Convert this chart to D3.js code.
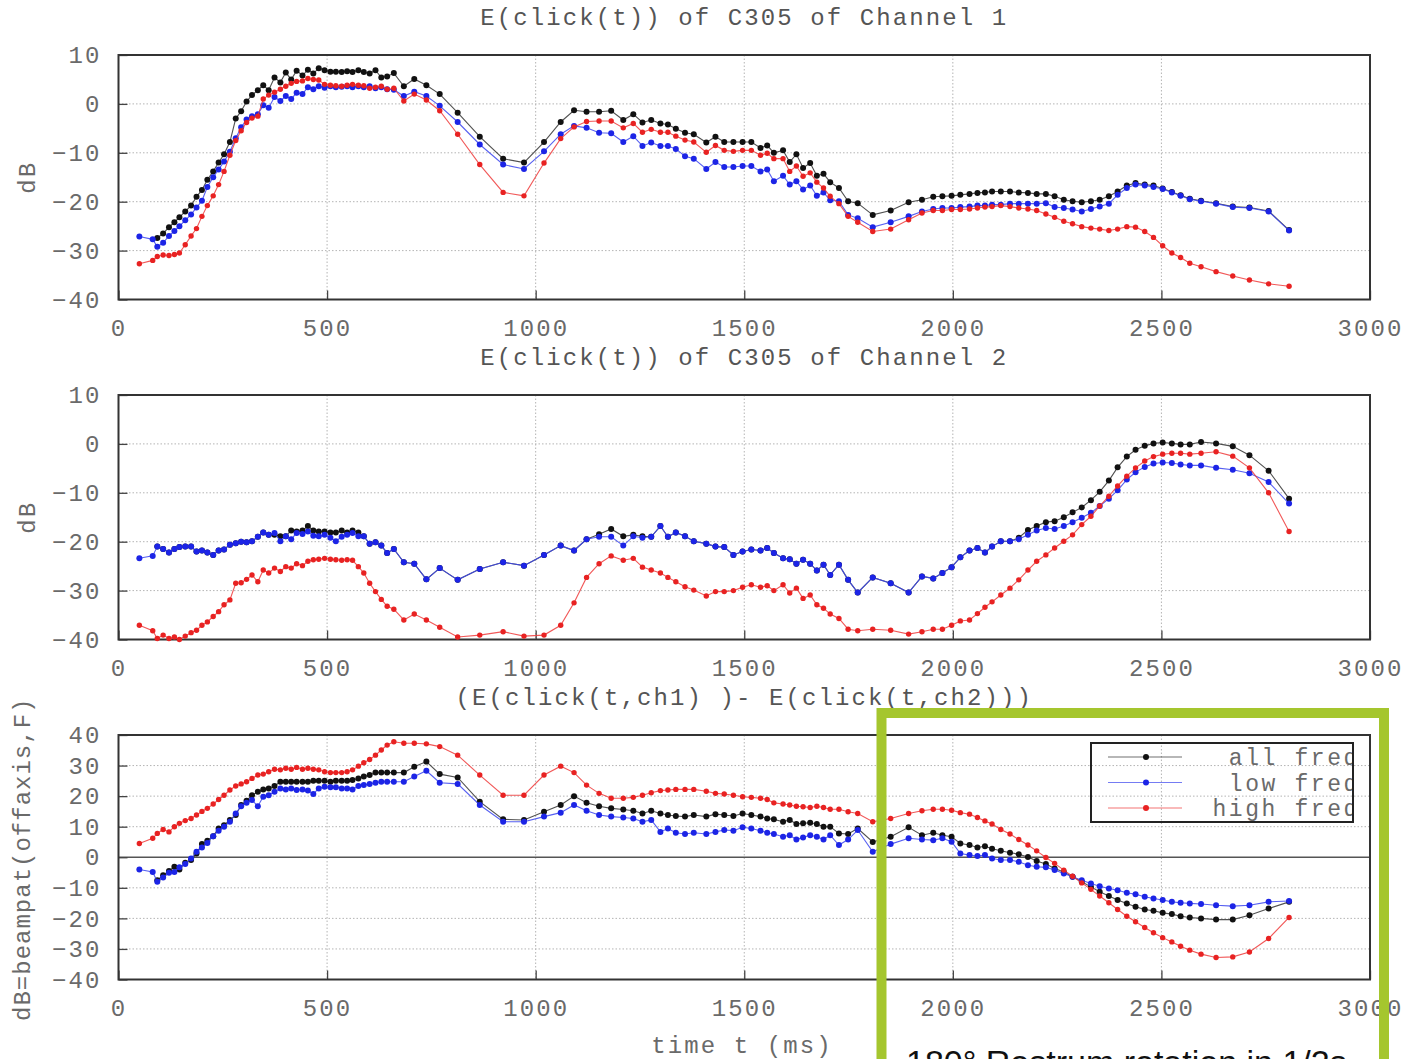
<!DOCTYPE html>
<html>
<head>
<meta charset="utf-8">
<script src="https://cdn.jsdelivr.net/npm/d3@7"></script>
<style>
  html, body { margin: 0; padding: 0; background: #fff; }
  svg { display: block; }
</style>
</head>
<body>
<svg id="chart" width="1406" height="1059"></svg>
<script>
// Click times (ms), shared by every panel
const timeMs = [50,82,93,107,121,134,146,160,174,187,200,213,227,240,253,267,281,294,307,320,334,347,360,374,388,401,414,427,441,454,467,480,494,508,521,535,548,561,575,588,602,616,630,644,660,
  684,709,738,770,813,866,922,972,1020,1060,1092,1122,1152,1181,1210,1234,1256,1277,1299,1317,1336,1358,1379,
  1409,1431,1452,1474,1496,1517,1539,1555,1571,1593,1609,1625,1641,1658,1674,1690,1706,1727,1749,1772,1808,1851,1894,1926,1953,1975,1997,2018,2040,2059,2077,2094,2115,2137,2158,2180,2201,2223,2244,2266,2287,2309,2331,2352,2374,2395,2417,2438,2460,2481,2503,2525,2546,2568,2595,2631,2671,2711,2757,2806];

// Channel 1 energy (dB)
const ch1All = [null,null,-27.4,-26.5,-25.2,-24.2,-23.2,-22.0,-20.8,-19.0,-17.6,-15.5,-13.8,-12.0,-10.3,-7.8,-3.0,-1.5,0.5,1.8,2.8,3.8,2.8,5.4,4.4,6.4,5.0,6.8,5.8,7.0,6.2,7.3,6.9,6.6,6.6,6.5,6.7,6.5,6.9,6.5,6.2,6.9,5.4,5.6,6.3,
  3.6,5.1,3.8,2.0,-1.8,-6.7,-11.2,-12.0,-7.8,-3.7,-1.3,-1.6,-1.6,-1.4,-3.3,-2.1,-3.8,-3.3,-4.0,-4.2,-5.1,-5.9,-6.2,
  -7.9,-6.7,-7.8,-7.8,-7.8,-7.8,-9.0,-8.5,-10.0,-9.5,-11.9,-10.3,-13.1,-12.1,-14.7,-14.3,-16.0,-17.2,-19.9,-20.3,-22.7,-21.8,-20.1,-19.6,-19.0,-18.9,-18.8,-18.6,-18.4,-18.2,-18.1,-17.9,-17.9,-17.9,-18.1,-18.2,-18.4,-18.4,-18.9,-19.6,-19.9,-20.1,-19.9,-19.6,-18.9,-17.9,-16.7,-16.2,-16.5,-16.7,-17.3,-18.0,-18.7,-19.4,-19.8,-20.3,-21.0,-21.2,-21.9,-25.8];
const ch1Low = [-27.1,-27.7,-29.2,-28.4,-27.0,-26.0,-25.0,-23.8,-22.6,-21.2,-19.8,-17.0,-15.0,-13.4,-11.8,-9.8,-7.0,-4.8,-3.2,-2.5,-2.1,-0.3,-0.8,1.4,0.6,1.6,1.0,2.3,2.0,3.4,3.0,3.6,3.3,3.6,3.4,3.5,3.6,3.4,3.6,3.4,3.6,3.2,3.4,3.0,2.9,
  1.6,2.5,1.6,-0.4,-3.7,-8.3,-12.4,-13.3,-9.7,-6.2,-4.5,-4.9,-5.9,-6.0,-7.8,-6.6,-8.6,-7.9,-8.6,-8.6,-9.2,-10.7,-11.2,
  -13.3,-11.9,-12.9,-12.9,-12.7,-12.7,-13.8,-13.4,-15.8,-14.7,-16.5,-15.8,-17.5,-16.7,-18.8,-18.1,-19.7,-19.9,-22.7,-23.4,-25.2,-24.2,-23.0,-22.0,-21.5,-21.3,-21.3,-21.1,-21.0,-20.8,-20.8,-20.6,-20.6,-20.4,-20.4,-20.4,-20.4,-20.3,-21.1,-21.3,-21.6,-22.0,-21.5,-21.0,-20.4,-18.6,-17.2,-16.5,-16.7,-17.0,-17.4,-18.1,-18.8,-19.5,-19.9,-20.4,-21.1,-21.3,-22.0,-25.9];
const ch1High = [-32.7,-32.0,-31.2,-30.9,-31.0,-30.8,-30.5,-28.8,-27.0,-25.5,-23.0,-20.8,-18.8,-16.5,-13.8,-10.5,-7.5,-5.5,-3.8,-2.9,-2.5,1.0,1.8,2.4,3.0,3.6,4.2,4.6,4.7,5.2,5.0,4.9,4.0,3.8,3.7,3.6,3.8,4.0,3.8,3.7,3.2,3.4,3.6,3.0,3.2,
  0.6,2.0,0.8,-1.4,-6.2,-12.4,-18.1,-18.8,-12.1,-7.1,-4.7,-3.6,-3.5,-3.5,-4.9,-4.0,-5.8,-5.2,-5.8,-5.8,-6.6,-7.4,-7.8,
  -9.9,-8.5,-9.5,-9.7,-9.5,-9.5,-10.5,-10.1,-11.2,-11.2,-13.8,-12.7,-14.8,-14.1,-16.0,-17.2,-18.9,-20.4,-23.0,-24.2,-26.1,-25.6,-23.7,-22.3,-21.8,-21.8,-21.6,-21.6,-21.5,-21.3,-21.1,-21.0,-20.8,-21.0,-21.3,-21.5,-21.8,-22.5,-23.2,-24.0,-24.5,-25.1,-25.4,-25.6,-25.9,-25.6,-25.1,-25.2,-26.1,-27.3,-29.0,-30.5,-31.4,-32.6,-33.3,-34.3,-35.2,-36.0,-36.8,-37.3];

// Channel 2 energy (dB)
const ch2All = [null,null,-21.0,-21.5,-22.2,-21.5,-21.1,-21.0,-21.0,-22.0,-21.8,-22.2,-22.7,-21.8,-21.6,-20.6,-20.3,-20.0,-20.1,-19.9,-19.0,-18.1,-18.6,-18.6,-18.9,-18.9,-17.7,-17.9,-17.7,-16.8,-17.7,-17.9,-17.9,-18.1,-18.1,-17.7,-18.1,-17.7,-18.1,-18.9,-20.4,-20.1,-20.8,-22.3,-21.5,
  -24.2,-24.5,-27.7,-25.4,-27.8,-25.6,-24.2,-24.9,-22.7,-20.8,-21.8,-19.5,-18.5,-17.4,-18.9,-18.6,-18.9,-19.0,-16.8,-19.0,-18.1,-18.9,-19.9,
  -20.4,-21.0,-21.1,-22.7,-22.0,-21.6,-21.8,-21.3,-22.3,-23.4,-23.6,-24.5,-23.7,-24.5,-25.9,-24.7,-26.8,-24.7,-27.8,-30.4,-27.3,-28.5,-30.4,-27.1,-27.5,-26.4,-25.2,-23.2,-21.8,-21.3,-22.2,-21.0,-19.9,-19.9,-19.2,-17.6,-16.8,-16.0,-15.8,-15.0,-14.0,-13.0,-11.5,-9.8,-7.5,-4.8,-2.6,-1.2,-0.4,0.1,0.3,0.1,-0.1,-0.1,0.4,0.1,-0.5,-2.3,-5.5,-11.2];
const ch2Low = [-23.4,-22.9,-21.0,-21.5,-22.2,-21.5,-21.1,-21.0,-21.0,-22.0,-21.8,-22.2,-22.7,-21.8,-21.6,-20.6,-20.3,-20.0,-20.1,-19.9,-19.0,-18.1,-18.6,-18.2,-19.9,-18.9,-19.5,-18.2,-18.4,-17.9,-18.8,-18.9,-18.6,-19.2,-19.9,-19.0,-18.6,-18.2,-18.9,-18.9,-20.4,-20.1,-20.8,-22.3,-21.5,
  -24.2,-24.5,-27.7,-25.4,-27.8,-25.6,-24.2,-24.9,-22.7,-20.8,-21.8,-19.5,-19.0,-19.0,-20.8,-18.9,-19.2,-19.0,-16.8,-19.0,-18.1,-18.9,-19.9,
  -20.4,-21.0,-21.1,-22.7,-22.0,-21.6,-21.8,-21.3,-22.3,-23.4,-23.6,-24.5,-23.7,-24.5,-25.9,-24.7,-26.8,-24.7,-27.8,-30.4,-27.3,-28.5,-30.4,-27.1,-27.5,-26.4,-25.2,-23.2,-21.8,-21.3,-22.2,-21.0,-19.9,-19.9,-19.5,-18.6,-17.7,-17.2,-17.4,-16.8,-16.0,-15.1,-14.1,-12.7,-11.2,-9.5,-7.3,-5.8,-4.7,-4.0,-3.8,-3.9,-4.2,-4.4,-4.4,-4.9,-5.3,-6.0,-7.8,-12.2];
const ch2High = [-37.1,-38.2,-39.8,-39.1,-39.8,-39.5,-40.0,-39.3,-38.6,-38.1,-37.1,-36.4,-35.3,-34.3,-32.9,-31.9,-28.5,-28.4,-27.7,-26.8,-28.2,-25.8,-26.4,-25.4,-26.1,-25.1,-25.4,-24.5,-24.9,-24.0,-23.7,-23.6,-23.4,-23.6,-23.7,-23.8,-23.7,-23.8,-25.1,-26.4,-28.5,-30.2,-31.8,-33.2,-33.8,
  -36.0,-34.8,-36.0,-37.5,-39.5,-39.1,-38.4,-39.3,-39.1,-37.1,-32.5,-27.3,-24.5,-22.9,-23.8,-23.4,-25.2,-25.8,-26.4,-27.3,-28.2,-29.2,-29.9,
  -31.1,-30.2,-30.2,-30.0,-29.3,-28.8,-29.3,-29.0,-30.0,-28.8,-30.5,-29.5,-31.6,-30.9,-32.9,-33.6,-34.8,-35.7,-37.9,-38.2,-37.9,-38.1,-38.9,-38.4,-37.9,-37.9,-37.1,-36.2,-36.0,-34.7,-33.4,-32.3,-30.9,-29.5,-27.8,-25.8,-24.0,-22.7,-21.3,-19.9,-18.6,-16.5,-14.8,-12.7,-10.7,-8.6,-6.6,-4.9,-3.5,-2.6,-2.1,-1.9,-1.9,-2.1,-1.9,-1.6,-2.5,-4.9,-10.0,-17.9];

// Channel 1 minus channel 2 (dB)
const diffAll = [null,null,-7.5,-5.9,-4.5,-3.1,-4.0,-1.8,-0.9,1.2,4.3,5.4,6.9,9.4,10.5,12.2,13.8,17.1,18.5,20.3,21.4,22.2,22.5,23.3,24.7,24.7,24.7,24.7,24.7,24.7,25.0,25.0,25.0,24.7,25.0,25.0,25.0,25.3,25.8,26.4,26.9,27.7,27.7,27.7,27.7,
  27.7,29.6,31.3,27.2,26.1,18.2,12.4,12.2,14.9,17.1,20.0,17.8,16.7,16.0,15.6,15.2,14.3,15.2,14.3,13.8,13.5,13.3,13.8,
  13.3,14.1,13.8,13.5,14.3,13.8,13.3,12.7,12.4,11.6,12.2,10.9,11.1,11.3,10.9,10.0,10.0,7.8,7.6,9.4,5.0,6.7,9.8,7.2,8.0,7.2,6.7,4.5,4.0,3.2,3.6,2.8,2.1,1.5,1.0,0.1,-1.2,-2.2,-3.7,-4.8,-6.4,-8.0,-9.7,-11.3,-12.7,-14.0,-15.1,-16.2,-17.1,-17.5,-18.2,-18.6,-19.3,-19.7,-20.0,-20.4,-20.4,-19.0,-16.8,-14.6];
const diffLow = [-4.0,-4.8,-8.0,-6.6,-5.1,-4.8,-3.3,-2.2,-0.4,1.8,3.2,4.7,6.9,8.7,10.0,11.6,14.3,16.7,17.8,18.7,16.7,19.8,20.3,21.4,22.5,22.2,22.5,22.0,22.2,21.8,20.7,22.5,23.1,22.9,22.9,22.5,22.5,22.2,23.3,23.6,24.0,24.4,24.7,24.7,24.7,
  24.7,26.4,28.3,24.4,24.0,17.1,11.6,11.6,13.3,14.6,17.1,15.2,13.8,13.3,13.0,12.7,11.6,12.2,8.3,9.4,8.0,7.6,8.0,
  7.6,8.3,8.9,8.7,9.8,9.4,8.7,8.0,7.6,6.7,7.2,5.8,6.5,7.2,6.7,5.8,7.2,4.0,5.8,8.9,1.8,4.3,6.2,5.8,5.6,6.2,5.1,1.2,0.7,0.4,0.7,-0.4,-0.9,-0.9,-1.5,-2.6,-3.1,-3.3,-4.2,-5.3,-6.4,-7.5,-8.6,-9.5,-10.2,-10.8,-11.6,-12.1,-12.9,-13.5,-14.0,-14.6,-14.9,-15.1,-15.3,-15.7,-16.0,-15.7,-14.6,-14.3];
const diffHigh = [4.5,6.2,7.8,9.1,8.3,10.0,11.1,12.0,12.7,13.8,15.0,16.0,17.4,18.9,20.3,22.0,23.3,24.0,24.7,25.8,26.9,27.2,28.0,28.8,28.6,29.1,28.8,29.4,28.8,29.1,28.8,28.6,28.0,27.7,27.7,27.7,28.0,28.6,29.8,30.9,32.0,33.4,35.1,36.7,37.8,
  37.3,37.3,37.1,36.2,33.4,26.9,20.3,20.3,26.9,29.8,27.7,23.6,20.9,19.3,19.3,19.6,20.3,21.1,21.8,22.0,22.2,22.2,22.2,
  21.6,20.9,20.7,20.3,19.8,19.6,19.3,18.9,17.8,17.4,17.1,16.7,16.5,16.3,16.7,16.3,15.7,15.7,14.9,14.3,11.6,12.7,14.3,15.2,15.7,15.7,15.4,14.6,14.1,13.0,11.9,10.9,9.1,7.6,5.8,4.0,2.1,-0.1,-2.0,-4.2,-6.2,-8.4,-10.5,-12.7,-14.9,-17.1,-19.3,-21.1,-23.0,-24.7,-26.3,-27.7,-29.1,-30.4,-31.7,-32.8,-32.6,-31.0,-26.6,-19.7];

// Axis ticks and labels
const xTicks = [0, 500, 1000, 1500, 2000, 2500, 3000];
const energyTicks = [-40, -30, -20, -10, 0, 10];
const diffTicks = [-40, -30, -20, -10, 0, 10, 20, 30, 40];
const seriesNames = ["all freq", "low freq", "high freq"];
const panelTitles = [
  "E(click(t)) of C305 of Channel 1",
  "E(click(t)) of C305 of Channel 2",
  "(E(click(t,ch1) )- E(click(t,ch2)))"
];
const yLabels = ["dB", "dB", "dB=beampat(offaxis,F)"];
const xLabel = "time t (ms)";
const noteText = "180\u00B0 Rostrum rotation in 1/2s";

// ---- drawing ----
const svg = d3.select("#chart");
svg.append("rect").attr("width", 1406).attr("height", 1059).attr("fill", "#fff");

const monoFont = "'Liberation Mono', 'DejaVu Sans Mono', monospace";
const fontSize = 24;
const spacing = 2.1;
const textFill = "#6a6a6a";

// apply the shared monospace text style
function mono(sel, size = fontSize, ls = spacing) {
  return sel.style("font-family", monoFont).style("font-size", size + "px")
    .style("letter-spacing", ls + "px").attr("fill", textFill);
}

const colors = ["#111111", "#1c24e6", "#e82222"];
const lineColors = ["#333333", "#3a44ee", "#ee3b3b"];
const left = 118.5, right = 1370;
const x = d3.scaleLinear().domain([0, 3000]).range([left, right]);

const panels = [
  { top: 55,  bottom: 299.5, domain: [-40, 10], ticks: energyTicks, series: [ch1All, ch1Low, ch1High] },
  { top: 395, bottom: 639.5, domain: [-40, 10], ticks: energyTicks, series: [ch2All, ch2Low, ch2High] },
  { top: 735, bottom: 979.5, domain: [-40, 40], ticks: diffTicks,   series: [diffAll, diffLow, diffHigh], zero: true, legend: true }
];

panels.forEach((p, i) => {
  const y = d3.scaleLinear().domain(p.domain).range([p.bottom, p.top]);
  const g = svg.append("g");

  // dotted grid
  g.selectAll(".vgrid").data(xTicks.slice(1, -1)).join("line")
    .attr("x1", d => x(d)).attr("x2", d => x(d))
    .attr("y1", p.top).attr("y2", p.bottom)
    .attr("stroke", "#b4b4b4").attr("stroke-width", 1).attr("stroke-dasharray", "1.5,2");
  g.selectAll(".hgrid").data(p.ticks.slice(1, -1).filter(d => !(p.zero && d === 0))).join("line")
    .attr("x1", left).attr("x2", right)
    .attr("y1", d => y(d)).attr("y2", d => y(d))
    .attr("stroke", "#b4b4b4").attr("stroke-width", 1).attr("stroke-dasharray", "1.5,2");

  if (p.zero) {
    g.append("line").attr("x1", left).attr("x2", right)
      .attr("y1", y(0)).attr("y2", y(0))
      .attr("stroke", "#555").attr("stroke-width", 1.6);
  }

  // axes with inward ticks
  const ya = g.append("g").attr("transform", `translate(${left},0)`)
    .call(d3.axisLeft(y).tickValues(p.ticks).tickSize(-9).tickPadding(17).tickFormat(d3.format("d")));
  const xa = g.append("g").attr("transform", `translate(0,${p.bottom})`)
    .call(d3.axisBottom(x).tickValues(xTicks).tickSize(-9).tickPadding(19).tickFormat(d3.format("d")));
  [ya, xa].forEach(a => {
    a.select(".domain").remove();
    a.selectAll(".tick line").attr("stroke", "#444").attr("stroke-width", 1.3);
    mono(a.selectAll(".tick text"));
  });

  // frame
  g.append("rect").attr("x", left).attr("y", p.top)
    .attr("width", right - left).attr("height", p.bottom - p.top)
    .attr("fill", "none").attr("stroke", "#333").attr("stroke-width", 2);

  // title
  mono(svg.append("text").attr("x", (left + right) / 2).attr("y", p.top - 30)
    .attr("text-anchor", "middle"))
    .attr("fill", "#555").text(panelTitles[i]);

  // y label
  mono(svg.append("text")
    .attr("transform", `translate(${i === 2 ? 22 : 27},${(p.top + p.bottom) / 2 + (i === 2 ? 2 : 0)}) rotate(-90)`)
    .attr("text-anchor", "middle").attr("dy", "0.35em"), fontSize, i === 2 ? 1 : spacing)
    .text(yLabels[i]);

  // series
  const line = d3.line().defined(d => d[1] != null).x(d => x(d[0])).y(d => y(d[1]));
  p.series.forEach((vals, k) => {
    const pts = timeMs.map((t, j) => [t, vals[j]]);
    g.append("path").datum(pts).attr("d", line)
      .attr("fill", "none").attr("stroke", lineColors[k]).attr("stroke-width", 1.1).attr("stroke-opacity", 0.85);
    g.selectAll(null).data(pts.filter(d => d[1] != null)).join("circle")
      .attr("cx", d => x(d[0])).attr("cy", d => y(d[1]))
      .attr("r", k === 2 ? 2.7 : 3).attr("fill", colors[k]);
  });

  // legend
  if (p.legend) {
    const lx = 1091, ly = 743, lw = 262, lh = 79;
    svg.append("clipPath").attr("id", "legendClip")
      .append("rect").attr("x", lx).attr("y", ly).attr("width", lw).attr("height", lh);
    const lg = svg.append("g");
    seriesNames.forEach((name, k) => {
      const yy = 757 + k * 25.5;
      lg.append("line").attr("x1", 1108).attr("x2", 1182).attr("y1", yy).attr("y2", yy)
        .attr("stroke", lineColors[k]).attr("stroke-width", 1.1).attr("stroke-opacity", 0.7);
      lg.append("circle").attr("cx", 1146).attr("cy", yy).attr("r", 3).attr("fill", colors[k]);
      mono(lg.append("text").attr("x", 1360).attr("y", yy + 8).attr("text-anchor", "end")
        .attr("clip-path", "url(#legendClip)"), 23, 2.6)
        .text(name);
    });
    lg.append("rect").attr("x", lx).attr("y", ly).attr("width", lw).attr("height", lh)
      .attr("fill", "none").attr("stroke", "#222").attr("stroke-width", 2);
  }
});

// x axis label
mono(svg.append("text").attr("x", 742).attr("y", 1053).attr("text-anchor", "middle"))
  .text(xLabel);

// highlight frame and note
svg.append("rect").attr("x", 881.5).attr("y", 713).attr("width", 502.5).attr("height", 420)
  .attr("fill", "none").attr("stroke", "#a5c62e").attr("stroke-width", 10);
svg.append("text").attr("x", 906).attr("y", 1074)
  .style("font-family", "'Liberation Sans', Arial, sans-serif").style("font-size", "34px")
  .attr("fill", "#111").text(noteText);
</script>
</body>
</html>
